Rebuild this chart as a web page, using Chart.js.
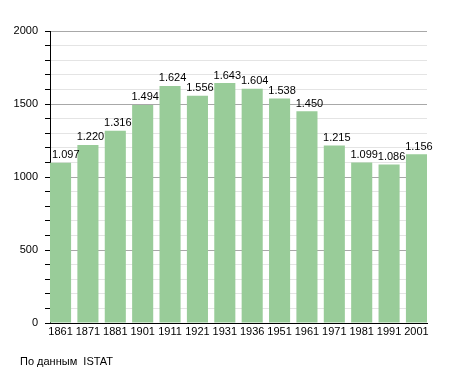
<!DOCTYPE html>
<html>
<head>
<meta charset="utf-8">
<script src="https://cdn.jsdelivr.net/npm/chart.js@4"></script>
<style>
  html, body { margin: 0; padding: 0; background: #fff; }
  #wrap { width: 455px; height: 373px; position: relative; }
</style>
</head>
<body>
<div id="wrap"><canvas id="chart"></canvas></div>
<script>
// anni dei censimenti
const years = ['1861', '1871', '1881', '1901', '1911', '1921', '1931', '1936', '1951', '1961', '1971', '1981', '1991', '2001'];
// abitanti
const population = [1097, 1220, 1316, 1494, 1624, 1556, 1643, 1604, 1538, 1450, 1215, 1099, 1086, 1156];
const yLabels = [0, 500, 1000, 1500, 2000];
const sourceText = 'По данным  ISTAT';

const fnt = { family: 'Liberation Sans, Arial, sans-serif', size: 11 };
const barPct = 0.77;

// numeri sopra le barre: 1.097 ecc.
function fmt(v) {
  return String(v).replace(/\B(?=(\d{3})+(?!\d))/g, '.');
}

const labelsPlugin = {
  id: 'labels',
  afterDatasetsDraw(chart) {
    const ctx = chart.ctx;
    const meta = chart.getDatasetMeta(0);
    const left = chart.chartArea.left;
    ctx.save();
    ctx.font = '11px ' + fnt.family;
    ctx.fillStyle = '#000';
    ctx.textAlign = 'center';
    ctx.textBaseline = 'bottom';
    meta.data.forEach((bar, i) => {
      const txt = fmt(population[i]);
      const w = ctx.measureText(txt).width;
      let x = bar.x + 2.5;
      if (x - w / 2 < left + 2) x = left + 2 + w / 2;
      ctx.fillText(txt, x, bar.y - 2);
    });
    ctx.restore();
  },
  afterDraw(chart) {
    const ctx = chart.ctx;
    ctx.save();
    ctx.font = '11px ' + fnt.family;
    ctx.fillStyle = '#000';
    ctx.textBaseline = 'middle';
    ctx.fillText(sourceText, 20, 362);
    ctx.restore();
  }
};

new Chart(document.getElementById('chart'), {
  type: 'bar',
  data: {
    labels: years,
    datasets: [{
      data: population,
      backgroundColor: '#99cc99',
      borderWidth: 0,
      categoryPercentage: 1,
      barPercentage: barPct
    }]
  },
  options: {
    responsive: true,
    maintainAspectRatio: false,
    animation: false,
    layout: { padding: { left: 0, right: 28, top: 31, bottom: 0 } },
    plugins: {
      legend: { display: false },
      tooltip: { enabled: false }
    },
    scales: {
      x: {
        grid: { display: false, drawTicks: false },
        border: { display: true, color: '#000', width: 1 },
        ticks: { color: '#000', font: fnt, padding: 2, maxRotation: 0, autoSkip: false },
        afterFit(s) { s.height = 50; },
        // prima e ultima barra attaccate ai bordi
        afterUpdate(s) {
          s._startValue = -barPct / 2;
          s._valueRange = years.length - 1 + barPct;
        }
      },
      y: {
        min: 0,
        max: 2000,
        ticks: {
          stepSize: 100,
          maxTicksLimit: 30,
          autoSkip: false,
          color: '#000',
          font: fnt,
          padding: 7,
          callback: v => yLabels.includes(v) ? String(v) : ''
        },
        grid: {
          color: c => (c.tick && c.tick.value % 500 === 0) ? '#a8a8a8' : '#e4e4e4',
          tickColor: '#000',
          tickLength: 5,
          drawTicks: true
        },
        border: { display: true, color: '#000', width: 1 },
        afterFit(s) { s.width = 50; }
      }
    }
  },
  plugins: [labelsPlugin]
});
</script>
</body>
</html>
